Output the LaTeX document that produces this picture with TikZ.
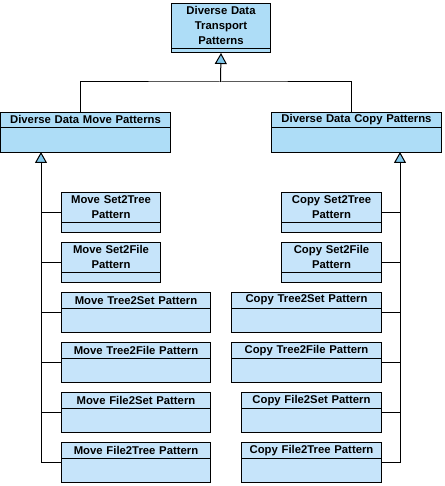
\documentclass[tikz,border=0pt]{standalone}
\usepackage{fontspec}
\setmainfont{Liberation Sans}
\usepackage{tikz}
\usetikzlibrary{arrows.meta}
\usetikzlibrary{calc}
\definecolor{headblue}{RGB}{174,221,247}
\definecolor{leafblue}{RGB}{198,228,250}
\definecolor{tipblue}{RGB}{128,200,236}
\tikzstyle{head}=[fill=headblue]
\tikzstyle{leaf}=[fill=leafblue]
\tikzstyle{link}=[line width=1pt]
\tikzstyle{gen}=[line width=1pt,-{Triangle[width=12pt,length=11pt,fill=tipblue]}]
\newcommand{\classe}[8][leaf]{% Cria uma classe: estilo, nome, x, y, largura, altura, altura do nome, texto
\node[draw,line width=1pt,#1,minimum width=#5pt,minimum height=#6pt,inner sep=0,anchor=north west] (#2) at (#3,#4) {};
\node[inner sep=0,text width=#5pt,align=center,minimum height=#7pt,anchor=north,font=\fontsize{11.3}{15}\selectfont\bfseries] (#2-n) at (#2.north) {#8};
\draw [link] (#2-n.south west) -- (#2-n.south east);
}
\begin{document}
\begin{tikzpicture}[x=1pt,y=-1pt]
\useasboundingbox (0,0) rectangle (444,486);
%% classes do topo
\classe[head]{dtp}{171}{3}{99}{49}{45}{Diverse Data\\Transport\\Patterns}
\classe[head]{ddm}{0}{112}{170}{40}{15}{Diverse Data Move Patterns}
\classe[head]{ddc}{271}{112}{170}{40}{15}{Diverse Data Copy Patterns}
%% ramo move
\classe{ms2t}{61}{192}{99}{40}{30}{Move Set2Tree\\Pattern}
\classe{ms2f}{61}{242}{99}{40}{30}{Move Set2File\\Pattern}
\classe{mt2s}{61}{292}{149}{40}{16}{Move Tree2Set Pattern}
\classe{mt2f}{61}{342}{149}{40}{16}{Move Tree2File Pattern}
\classe{mf2s}{61}{392}{149}{40}{16}{Move File2Set Pattern}
\classe{mf2t}{61}{442}{149}{40}{16}{Move File2Tree Pattern}
%% ramo copy
\classe{cs2t}{281}{192}{100}{40}{30}{Copy Set2Tree\\Pattern}
\classe{cs2f}{281}{242}{100}{40}{30}{Copy Set2File\\Pattern}
\classe{ct2s}{231}{292}{150}{40}{16}{Copy Tree2Set Pattern}
\classe{ct2f}{231}{342}{150}{40}{16}{Copy Tree2File Pattern}
\classe{cf2s}{241}{392}{140}{40}{16}{Copy File2Set Pattern}
\classe{cf2t}{241}{442}{140}{40}{16}{Copy File2Tree Pattern}
%% generalizacoes
\coordinate (bus) at (220.5,82);
\coordinate (mvtop) at (80,112);
\coordinate (cptop) at (351,112);
\coordinate (mvtip) at (41,152);
\coordinate (cptip) at (400,152);
\draw [gen] (bus) -- (dtp.south);
\draw [link] (mvtop) |- (bus) -| (cptop);
\draw [gen] (mf2t.west) -| (mvtip);
\draw [gen] (cf2t.east) -| (cptip);
\foreach \c in {ms2t,ms2f,mt2s,mt2f,mf2s}
  \draw [link] (\c.west) -- (\c.west -| mvtip);
\foreach \c in {cs2t,cs2f,ct2s,ct2f,cf2s}
  \draw [link] (\c.east) -- (\c.east -| cptip);
\end{tikzpicture}
\end{document}
